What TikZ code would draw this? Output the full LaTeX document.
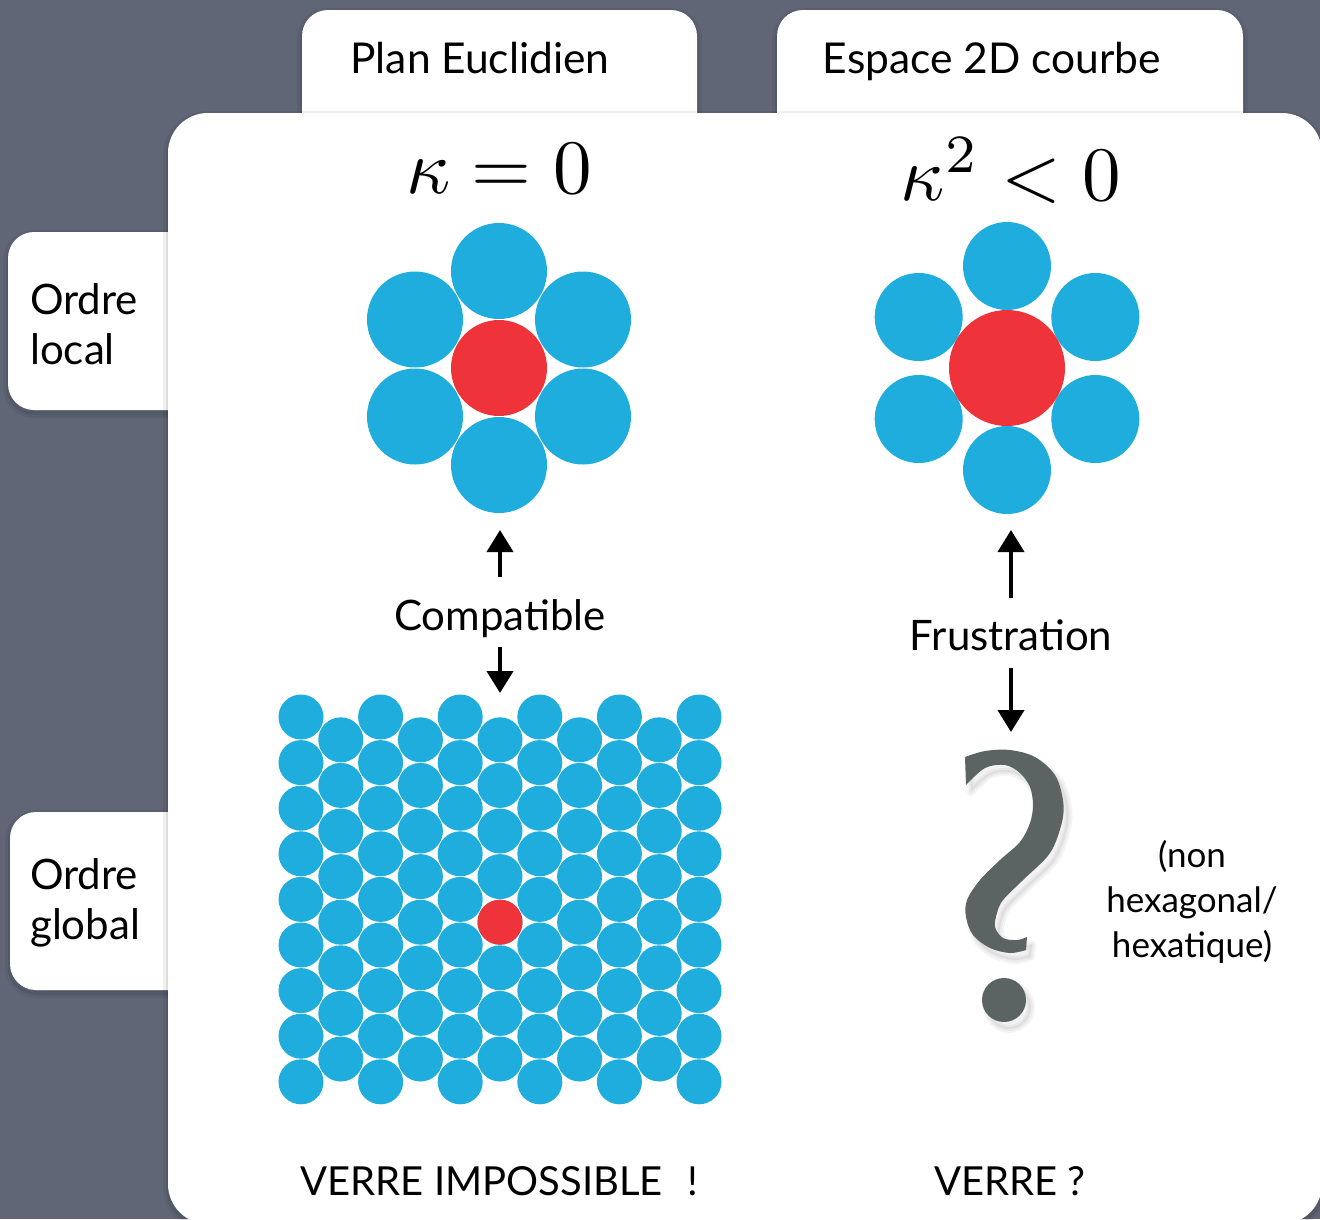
\documentclass[tikz,border=0pt]{standalone}
\usepackage[no-math]{fontspec}
\setmainfont{Lato}
\usepackage{graphicx}
\usetikzlibrary{arrows.meta}

\definecolor{bgslate}{RGB}{96,102,118}
\definecolor{ballblue}{RGB}{30,173,220}
\definecolor{ballred}{RGB}{238,52,58}
\definecolor{qgray}{RGB}{92,100,99}

% outline of the large question mark (with its dot)
\newcommand\qmarkoutline{%
  (965,757) plot[smooth, tension=0.55] coordinates {(965,757) (985,751) (1010,750) (1035,757) (1055,775) (1063,800) (1062,822) (1050,853) (1023,880) (1003,900) (997,913) (995,927) (1003,938) (1017,940) (1027,937)}
  -- plot[smooth, tension=0.55] coordinates {(1026,950) (1010,953) (990,948) (973,935) (966,917) (967,900) (980,880) (1000,860) (1020,842) (1030,823) (1033,805) (1030,787) (1020,773) (1005,765) (985,768) (966,785)}
  -- cycle
  (1004,1000) circle[radius=22]}

\tikzset{
  card/.style={fill=white,
    preaction={draw=black, draw opacity=0.06, line width=10pt, transform canvas={yshift=-3pt}},
    preaction={draw=black, draw opacity=0.08, line width=4pt, transform canvas={yshift=-3pt}}},
  txt/.style={inner sep=0pt, text=black},
  tabtxt/.style={txt, font=\fontsize{42.5}{50}\selectfont},
  sidetxt/.style={txt, font=\fontsize{42}{50}\selectfont, align=left},
  midtxt/.style={txt, font=\fontsize{42}{50}\selectfont},
  notetxt/.style={txt, font=\fontsize{35}{45}\selectfont, align=center},
  foottxt/.style={txt, font=\fontsize{40}{48}\selectfont},
  mathtxt/.style={inner sep=0pt, scale=7.7},
  arr/.style={line width=4pt, -{Triangle[width=26pt,length=22pt]}},
  blueball/.style={fill=ballblue},
  redball/.style={fill=ballred},
}

\begin{document}
\begin{tikzpicture}[x=1pt,y=-1pt]
\useasboundingbox (0,0) rectangle (1320,1219);
\clip (0,0) rectangle (1320,1219);
\fill[bgslate] (0,0) rectangle (1320,1219);

% column and row tabs
\path[card, rounded corners=26pt] (302,10) rectangle (697,170);
\path[card, rounded corners=26pt] (777,10) rectangle (1243,170);
\path[card, rounded corners=26pt] (8,232) rectangle (220,410);
\path[card, rounded corners=26pt] (10,812) rectangle (220,990);

% main panel
\path[card, rounded corners=40pt] (168,113) rectangle (1322,1224);

% tab labels
\node[tabtxt, anchor=base] (plan) at (480,73) {Plan Euclidien};
\node[tabtxt, anchor=base] (espace) at (992,73) {Espace 2D courbe};
\node[sidetxt, anchor=west] (olocal) at (30,324) {Ordre\\local};
\node[sidetxt, anchor=west] (oglobal) at (30,903) {Ordre\\global};

% curvature headings
\node[mathtxt, anchor=base] (kzero) at (499,193) {$\kappa = 0$};
\node[mathtxt, anchor=base] (kneg) at (1011,200) {$\kappa^{2} < 0$};

% local order, flat plane: six neighbours touching a central disc
\foreach \a in {30,90,...,330}
  \fill[blueball] ([shift={(\a:97)}]499,368) circle[radius=48];
\fill[redball] (499,368) circle[radius=48];

% local order, curved space: larger central disc, smaller neighbours
\foreach \a in {30,90,...,330}
  \fill[blueball] ([shift={(\a:102)}]1007,368) circle[radius=44];
\fill[redball] (1007,368) circle[radius=58];

% global order, flat plane: triangular lattice
\foreach \c in {0,2,...,10}
  \foreach \r in {0,...,8}
    \fill[blueball] ({301+\c*39.8},{717+\r*45.6}) circle[radius=22.5];
\foreach \c in {1,3,...,9}
  \foreach \r in {0,...,7}
    \fill[blueball] ({301+\c*39.8},{739.8+\r*45.6}) circle[radius=22.5];
\fill[redball] (500,922.2) circle[radius=22.5];

% arrows and their labels
\coordinate (upL) at (500,530);
\coordinate (downL) at (500,693);
\coordinate (upR) at (1011,530);
\coordinate (downR) at (1011,732);
\node[midtxt, anchor=base, text height=53pt, text depth=17pt] (compat) at (500,630) {Compatible};
\node[midtxt, anchor=base, text height=52pt, text depth=18pt] (frust) at (1011,650) {Frustration};
\draw[arr] (compat.north) -- (upL);
\draw[arr] (compat.south) -- (downL);
\draw[arr] (frust.north) -- (upR);
\draw[arr] (frust.south) -- (downR);

% question mark with a soft shadow
\begin{scope}[shift={(5,7)}]
  \fill[black, opacity=0.05] \qmarkoutline;
  \draw[black, opacity=0.04, line width=8pt, line join=round] \qmarkoutline;
  \draw[black, opacity=0.04, line width=4pt, line join=round] \qmarkoutline;
\end{scope}
\fill[qgray] \qmarkoutline;

\node[notetxt] (note) at (1192,902) {(non\\hexagonal/\\hexatique)};

% conclusions
\node[foottxt, anchor=base] (impossible) at (499,1195) {VERRE IMPOSSIBLE \hspace{14pt}!};
\node[foottxt, anchor=base] (verre) at (1010,1195) {VERRE ?};
\end{tikzpicture}
\end{document}
